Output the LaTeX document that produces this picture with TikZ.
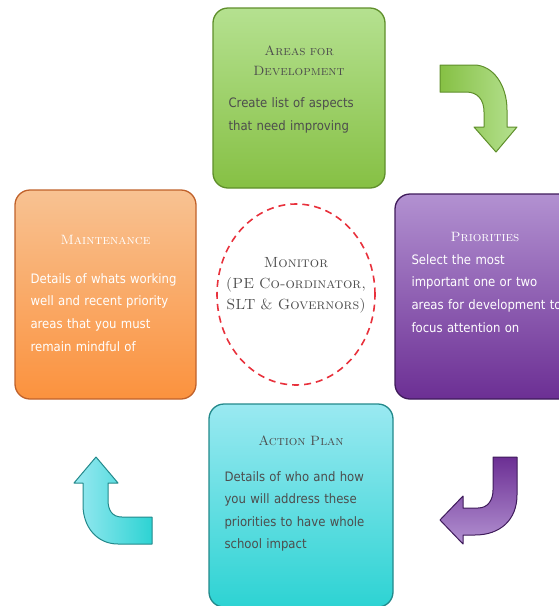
\documentclass[tikz,border=0pt]{standalone}
\usepackage{fontspec}
\newfontfamily\bodyfont{DejaVu Sans Condensed}
\usetikzlibrary{positioning}
\usetikzlibrary{shapes.geometric}
\definecolor{greentop}{HTML}{B5E190}
\definecolor{greenbot}{HTML}{86C044}
\definecolor{greenline}{HTML}{5F8F2B}
\definecolor{purpletop}{HTML}{B291D1}
\definecolor{purplebot}{HTML}{6C2F94}
\definecolor{purpleline}{HTML}{3F1B5B}
\definecolor{orangetop}{HTML}{F8C292}
\definecolor{orangebot}{HTML}{FB923E}
\definecolor{orangeline}{HTML}{C0622B}
\definecolor{cyantop}{HTML}{9AE9F1}
\definecolor{cyanbot}{HTML}{2DD3D3}
\definecolor{cyanline}{HTML}{23898B}
\definecolor{ringred}{HTML}{E8313C}
\definecolor{textgrey}{HTML}{4D4D4D}
\tikzset{
	phase/.style={
		rectangle, 
		rounded corners=15pt, 
		line width=1.3pt,
		inner sep=0pt,
		minimum width=180pt, 
		minimum height=205pt},
	greenbox/.style={phase, top color=greentop, bottom color=greenbot, draw=greenline},
	purplebox/.style={phase, top color=purpletop, bottom color=purplebot, draw=purpleline},
	orangebox/.style={phase, top color=orangetop, bottom color=orangebot, draw=orangeline},
	cyanbox/.style={phase, top color=cyantop, bottom color=cyanbot, draw=cyanline},
	phasetitle/.style={
		font=\fontsize{13.5}{20}\selectfont\scshape,
		inner sep=0pt,
		text width=170pt, 
		align=center},
	phasetext/.style={
		font=\fontsize{13}{22.6}\selectfont\bodyfont,
		inner sep=0pt,
		text width=200pt, 
		align=left},
	bentarrow/.style={line width=1pt, line join=round},
	monitorring/.style={
		ellipse,
		draw=ringred, line width=1.6pt,
		dash pattern=on 7pt off 5pt,
		inner sep=0pt},
	monitortitle/.style={
		font=\fontsize{14.7}{21}\selectfont\scshape,
		text=textgrey,
		inner sep=0pt,
		text width=170pt, 
		align=center},
}
\begin{document}
\begin{tikzpicture}[x=1pt, y=-1pt]
	\useasboundingbox (0,0) rectangle (558,606);
	% the four phases
	\node[greenbox, minimum width=172pt, minimum height=180pt] (areas) at (299,98) {};
	\node[purplebox] (prio) at (485,296.5) {};
	\node[orangebox, minimum width=181pt, minimum height=209pt] (maint) at (105.5,294.5) {};
	\node[cyanbox, minimum width=184pt, minimum height=203pt] (action) at (301,505.5) {};
	
	\node[phasetitle, text=textgrey, below=48pt of areas.north, anchor=base] (areastitle) {Areas for\\Development};
	\node[phasetext, text=textgrey, below right=100.5pt and 16pt of areas.north west, anchor=base west] (areastext) {Create list of aspects\\that need improving};
	
	\node[phasetitle, text=white, below=47.7pt of prio.north, anchor=base] (priotitle) {Priorities};
	\node[phasetext, text=white, below right=71pt and 17pt of prio.north west, anchor=base west] (priotext) {Select the most\\important one or two\\areas for development to\\focus attention on};
	
	\node[phasetitle, text=white, below=55pt of maint.north, anchor=base] (mainttitle) {Maintenance};
	\node[phasetext, text=white, below right=94pt and 16pt of maint.north west, anchor=base west] (mainttext) {Details of whats working\\well and recent priority\\areas that you must\\remain mindful of};
	
	\node[phasetitle, text=textgrey, below=41.7pt of action.north, anchor=base] (actiontitle) {Action Plan};
	\node[phasetext, text=textgrey, below right=77.7pt and 16pt of action.north west, anchor=base west] (actiontext) {Details of who and how\\you will address these\\priorities to have whole\\school impact};
	
	% monitor in the middle
	\node[monitorring, minimum width=158pt, minimum height=181pt] (monitor) at (296,294.5) {};
	\node[monitortitle, below=64.3pt of monitor.north, anchor=base] (monitorlabel) {Monitor\\(PE Co-ordinator,\\SLT \& Governors)};
	
	% bent arrows between the phases
	\draw[bentarrow, draw=greenline, left color=greenbot, right color=greentop]
		(440,65) -- (474,65) .. controls (493,65) and (507,85) .. (507,110) -- (507,127) -- (517,127)
		-- (496,152) -- (474,127) -- (484,127) -- (484,112) .. controls (484,100) and (478,92) .. (466,92)
		-- (440,92) -- cycle;
	\draw[bentarrow, draw=purpleline, top color=purplebot, bottom color=purpletop]
		(493,457) -- (517,457) -- (517,495) .. controls (517,520) and (500,535) .. (475,535) -- (463,535)
		-- (463,544) -- (440,520) -- (463,496) -- (463,508) -- (478,508) .. controls (488,508) and (493,500) .. (493,490)
		-- cycle;
	\draw[bentarrow, draw=cyanline, left color=cyantop, right color=cyanbot]
		(152,517) -- (152,544) -- (118,544) .. controls (97,544) and (83,527) .. (83,505) -- (83,483) -- (74,483)
		-- (96,457) -- (118,483) -- (108,483) -- (108,500) .. controls (108,510) and (112,517) .. (122,517)
		-- cycle;
\end{tikzpicture}
\end{document}
